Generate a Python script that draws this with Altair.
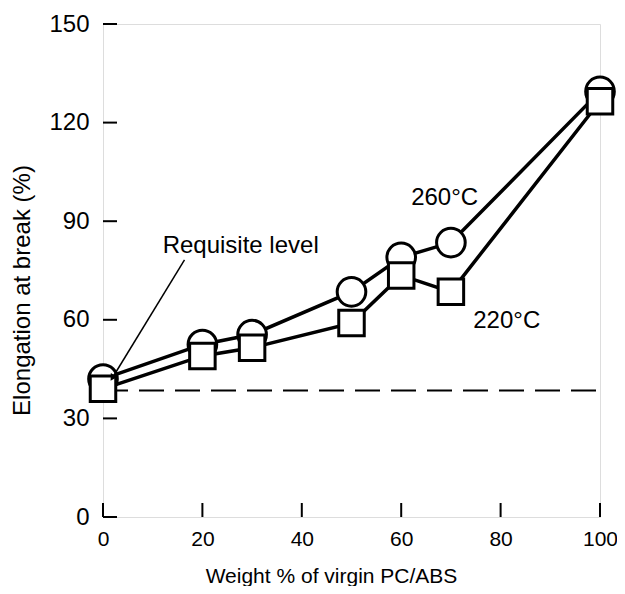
import altair as alt
import pandas as pd

# ---- data ----
weight = [0, 20, 30, 50, 60, 70, 100]
elong_260 = [42, 52.5, 55.5, 68.5, 79, 83.5, 129.5]
elong_220 = [39, 49, 51.5, 59, 73.5, 68.5, 126.5]
requisite_level = 38.5
x_ticks = [0, 20, 40, 60, 80, 100]
y_ticks = [0, 30, 60, 90, 120, 150]

label_text = ["Requisite level", "260°C", "220°C"]
label_x = [12, 62, 74.5]
label_y = [80.3, 95, 57.5]

arrow_x = [16.4]
arrow_y = [78.2]
arrow_x2 = [2.0]
arrow_y2 = [42.6]

W, H = 497, 493
FONT = "Liberation Sans"

xs = alt.Scale(domain=[0, 100], nice=False, zero=False)
ys = alt.Scale(domain=[0, 150], nice=False)

df260 = pd.DataFrame({"w": weight, "e": elong_260})
df220 = pd.DataFrame({"w": weight, "e": elong_220})

xaxis = alt.Axis(values=x_ticks, ticks=False, domain=False, grid=False, labelFlush=False,
                 labelFontSize=21, labelPadding=11, labelFont=FONT, labelColor="black",
                 titleFont=FONT, titleFontSize=21,
                 titleFontWeight="normal", titleColor="black",
                 titleX=228, titleY=65, titleBaseline="alphabetic", titleAlign="center")
yaxis = alt.Axis(values=y_ticks, ticks=False, domain=False, grid=False, labelFlush=False,
                 labelFontSize=24, labelPadding=14, labelFont=FONT, labelColor="black",
                 titleFont=FONT, titleFontSize=24,
                 titleFontWeight="normal", titleColor="black",
                 titleX=-81, titleY=266, titleAngle=-90, titleBaseline="middle",
                 titleAlign="center")

XT = "Weight % of virgin PC/ABS"
YT = "Elongation at break (%)"

base = alt.Chart(pd.DataFrame({"lvl": [requisite_level]}))
dashed = base.mark_rule(color="black", strokeWidth=2, strokeDash=[25, 11]).encode(
    y=alt.Y("lvl:Q", scale=ys, axis=yaxis, title=YT),
    x=alt.value(0), x2=alt.value(W),
)

line260 = alt.Chart(df260).mark_line(color="black", strokeWidth=3.5).encode(
    x=alt.X("w:Q", scale=xs, axis=xaxis, title=XT),
    y=alt.Y("e:Q", scale=ys, axis=yaxis, title=YT))
pts260 = alt.Chart(df260).mark_point(shape="circle", filled=True, fill="white",
                                     stroke="black", strokeWidth=3, size=820,
                                     opacity=1).encode(
    x=alt.X("w:Q", scale=xs, axis=xaxis, title=XT),
    y=alt.Y("e:Q", scale=ys, axis=yaxis, title=YT))
line220 = alt.Chart(df220).mark_line(color="black", strokeWidth=3.5).encode(
    x=alt.X("w:Q", scale=xs, axis=xaxis, title=XT),
    y=alt.Y("e:Q", scale=ys, axis=yaxis, title=YT))
pts220 = alt.Chart(df220).mark_point(shape="square", filled=True, fill="white",
                                     stroke="black", strokeWidth=3, size=650,
                                     opacity=1).encode(
    x=alt.X("w:Q", scale=xs, axis=xaxis, title=XT),
    y=alt.Y("e:Q", scale=ys, axis=yaxis, title=YT))

xt = alt.Chart(pd.DataFrame({"t": x_ticks})).mark_rule(color="black", strokeWidth=2).encode(
    x=alt.X("t:Q", scale=xs, axis=xaxis, title=XT), y=alt.value(H), y2=alt.value(H - 14))
yt = alt.Chart(pd.DataFrame({"t": y_ticks})).mark_rule(color="black", strokeWidth=2).encode(
    y=alt.Y("t:Q", scale=ys, axis=yaxis, title=YT), x=alt.value(0), x2=alt.value(14))

labels = alt.Chart(pd.DataFrame({"x": label_x, "y": label_y, "t": label_text})).mark_text(
    align="left", baseline="alphabetic", fontSize=24, font=FONT, color="black").encode(
    x=alt.X("x:Q", scale=xs, axis=xaxis, title=XT),
    y=alt.Y("y:Q", scale=ys, axis=yaxis, title=YT), text="t:N")

adf = pd.DataFrame({"x": arrow_x, "y": arrow_y, "x2": arrow_x2, "y2": arrow_y2})
arrow = alt.Chart(adf).mark_rule(color="black", strokeWidth=1.5).encode(
    x=alt.X("x:Q", scale=xs, axis=xaxis, title=XT),
    y=alt.Y("y:Q", scale=ys, axis=yaxis, title=YT), x2="x2:Q", y2="y2:Q")
head = alt.Chart(adf).mark_point(shape="triangle", filled=True, color="black",
                                 size=60, angle=211.6, opacity=1).encode(
    x=alt.X("x2:Q", scale=xs, axis=xaxis, title=XT),
    y=alt.Y("y2:Q", scale=ys, axis=yaxis, title=YT))

chart = alt.layer(dashed, xt, yt, line260, pts260, line220, pts220, arrow, head, labels).properties(
    width=W, height=H,
    autosize=alt.AutoSizeParams(type="none"),
    padding={"left": 95, "top": 16, "right": 17, "bottom": 69},
).configure_view(stroke="black", strokeWidth=2.5).configure(background="white")

chart.save("out.html", embed_options={"renderer": "svg", "actions": False})
